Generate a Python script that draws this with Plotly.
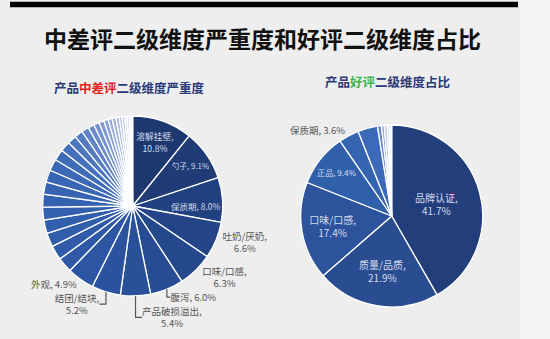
import plotly.graph_objects as go

# ---------------- data ----------------
neg_labels = ["溶解挂壁", "勺子", "保质期", "吐奶/厌奶", "口味/口感", "腹泻",
              "产品破损溢出", "结团/结块", "外观"] + [f"其他维度{i}" for i in range(1, 28)]
neg_values = [10.8, 9.1, 8.0, 6.6, 6.3, 6.0, 5.4, 5.2, 4.9,
              2.7, 2.6, 2.5, 2.4, 2.3, 2.3, 2.2, 2.2, 2.1, 2.0,
              1.8, 1.6, 1.5, 1.3, 1.1, 1.0, 0.9, 0.8, 0.7, 0.7,
              0.6, 0.5, 0.5, 0.4, 0.4, 0.3, 0.3]
neg_shown = 9                      # number of labelled slices
neg_twoline = {"溶解挂壁", "吐奶/厌奶", "口味/口感", "产品破损溢出", "结团/结块"}
neg_inside = 3                     # first slices with label inside

pos_labels = ["品牌认证", "质量/品质", "口味/口感", "正品", "保质期",
              "其他1", "其他2", "其他3", "其他4", "其他5", "其他6"]
pos_values = [41.7, 21.9, 17.4, 9.4, 3.6, 3.5, 0.7, 0.5, 0.5, 0.4, 0.4]
pos_shown = 5
pos_twoline = {"品牌认证", "质量/品质", "口味/口感"}
pos_inside = 4

title_text = "中差评二级维度严重度和好评二级维度占比"

# ---------------- styles ----------------
neg_colors = ["#1d386f", "#1f3c77", "#21407f", "#234486", "#25488c", "#274c93",
              "#295098", "#2b539d", "#2d56a2",
              "#2f59a6", "#305ba9", "#315dab", "#325fad", "#3361af", "#3462b1",
              "#3664b2", "#3866b4", "#3b69b6", "#3f6cb8",
              "#4570bb", "#4c76be", "#557cc1", "#5f83c5", "#6a8bc9", "#7592cd",
              "#809ad1", "#8ba2d5", "#96aad9", "#a1b2dc", "#acbae0", "#b7c2e4",
              "#c2cae8", "#ccd2ec", "#d6daf0", "#e0e3f4", "#eaecf8"]
pos_colors = ["#233f7b", "#2a4d92", "#2c539c", "#3060a9", "#3564b0", "#3c6ab8",
              "#6a86c9", "#8ea2d6", "#b3bfe4", "#d3d9f0", "#f2f4fa"]

LABEL_FONT = "Noto Sans CJK SC"
BG = "#eeeeee"


def templates(labels, n_shown, twoline):
    out = []
    for i, lab in enumerate(labels):
        if i >= n_shown:
            out.append("")
        elif lab in twoline:
            out.append("%{label},<br>%{percent:.1%}")
        else:
            out.append("%{label}, %{percent:.1%}")
    return out


def positions(labels, n_shown, n_inside):
    return ["inside" if i < n_inside else ("outside" if i < n_shown else "none")
            for i in range(len(labels))]


W, H = 550, 339

fig = go.Figure()

fig.add_trace(go.Pie(
    labels=neg_labels, values=neg_values, sort=False, direction="clockwise",
    rotation=0,
    marker=dict(colors=neg_colors, line=dict(color="white", width=1.3)),
    texttemplate=templates(neg_labels, neg_shown, neg_twoline),
    textposition=positions(neg_labels, neg_shown, neg_inside),
    insidetextorientation="horizontal",
    insidetextfont=dict(family=LABEL_FONT, size=9.5, color="#d5dbee"),
    outsidetextfont=dict(family=LABEL_FONT, size=9.5, color="#555555"),
    domain=dict(x=[(132.7 - 90) / W, (132.7 + 90) / W],
                y=[(H - 206 - 90) / H, (H - 206 + 90) / H]),
    showlegend=False, hoverinfo="label+percent",
))

fig.add_trace(go.Pie(
    labels=pos_labels, values=pos_values, sort=False, direction="clockwise",
    rotation=0,
    marker=dict(colors=pos_colors, line=dict(color="white", width=1.3)),
    texttemplate=templates(pos_labels, pos_shown, pos_twoline),
    textposition=positions(pos_labels, pos_shown, pos_inside),
    insidetextorientation="horizontal",
    insidetextfont=dict(family=LABEL_FONT, size=10, color="#d5dbee"),
    outsidetextfont=dict(family=LABEL_FONT, size=9.5, color="#555555"),
    domain=dict(x=[(391.7 - 91) / W, (391.7 + 91) / W],
                y=[(H - 216 - 91) / H, (H - 216 + 91) / H]),
    showlegend=False, hoverinfo="label+percent",
))

fig.update_layout(
    width=W, height=H,
    margin=dict(l=0, r=0, t=0, b=0),
    paper_bgcolor=BG, plot_bgcolor=BG,
    shapes=[
        dict(type="rect", xref="paper", yref="paper", x0=520 / W, x1=1, y0=0, y1=1,
             fillcolor="#f4f4f4", line=dict(width=0), layer="below"),
        dict(type="rect", xref="paper", yref="paper", x0=10 / W, x1=518 / W,
             y0=1 - 7.3 / H, y1=1 - 1.7 / H,
             fillcolor="#000000", line=dict(width=0)),
    ],
    annotations=[
        dict(text=f"<b>{title_text}</b>", xref="paper", yref="paper",
             x=262.5 / W, y=1 - 38 / H, xanchor="center", yanchor="middle",
             showarrow=False,
             font=dict(family="Noto Sans CJK SC", size=23, color="#111111")),
        dict(text='<b><span style="color:#2b3a78">产品</span>'
                  '<span style="color:#e3231c">中差评</span>'
                  '<span style="color:#2b3a78">二级维度严重度</span></b>',
             xref="paper", yref="paper",
             x=129.2 / W, y=1 - 87.7 / H, xanchor="center", yanchor="middle",
             showarrow=False,
             font=dict(family="Noto Sans CJK SC", size=12.5)),
        dict(text='<b><span style="color:#2b3a78">产品</span>'
                  '<span style="color:#3cb44a">好评</span>'
                  '<span style="color:#2b3a78">二级维度占比</span></b>',
             xref="paper", yref="paper",
             x=387.3 / W, y=1 - 81.7 / H, xanchor="center", yanchor="middle",
             showarrow=False,
             font=dict(family="Noto Sans CJK SC", size=12.5)),
    ],
)

fig.write_html("out.html")
